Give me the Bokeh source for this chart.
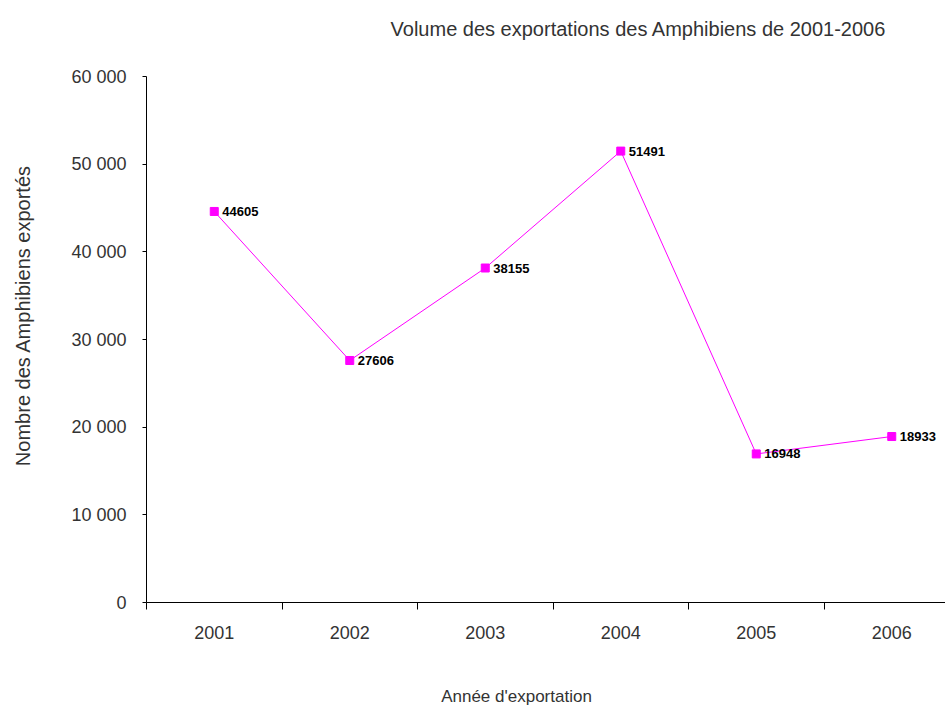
import math
from bokeh.plotting import figure
from bokeh.models import Range1d, FixedTicker, ColumnDataSource, LabelSet, Label
from bokeh.core.properties import value
from bokeh.embed import file_html
from bokeh.resources import INLINE

years = ["2001", "2002", "2003", "2004", "2005", "2006"]
exports = [44605, 27606, 38155, 51491, 16948, 18933]
y_ticks = [0, 10000, 20000, 30000, 40000, 50000, 60000]
y_tick_labels = ["0", "10 000", "20 000", "30 000", "40 000", "50 000", "60 000"]
title_text = "Volume des exportations des Amphibiens de 2001-2006"
x_title = "Année d'exportation"
y_title = "Nombre des Amphibiens exportés"

xpos = [i + 1 for i in range(len(years))]
src = ColumnDataSource(dict(x=xpos, y=exports, lab=[str(v) for v in exports]))

FONT = "Liberation Sans"
GREY = "#333333"
W, H = 945, 706
AX_X, AX_TOP, AX_Y = 146, 76, 602   # axis corner / top in canvas pixels
STEP = 135.5                         # px per category
YMAX = 60000
PPU = (AX_Y - AX_TOP) / YMAX         # px per unit


def dx(px):  # canvas px -> data x
    return 0.5 + (px - AX_X) / STEP


def dy(py):  # canvas px -> data y
    return (AX_Y - py) / PPU


p = figure(width=W, height=H, output_backend="svg", toolbar_location=None,
           x_range=Range1d(dx(0), dx(W)), y_range=Range1d(dy(H), dy(0)),
           min_border_left=0, min_border_right=0, min_border_top=0, min_border_bottom=0)
p.outline_line_color = None
p.xgrid.grid_line_color = None
p.ygrid.grid_line_color = None
p.background_fill_color = "white"
p.border_fill_color = "white"

p.line(src.data["x"], src.data["y"], line_color="#FF00FF", line_width=1)
p.scatter("x", "y", source=src, marker="square", size=8, fill_color="#FF00FF", line_color="#FF00FF")
p.add_layout(LabelSet(x="x", y="y", text="lab", source=src, x_offset=8, y_offset=0,
                      text_baseline="middle", text_font=value(FONT), text_font_size="13px",
                      text_font_style="bold", text_color="black"))

xa = p.xaxis[0]
xa.fixed_location = 0
xa.bounds = (0.5, dx(W))
xa.ticker = FixedTicker(ticks=xpos, minor_ticks=[x - 0.5 for x in xpos])
xa.major_label_overrides = {x: y for x, y in zip(xpos, years)}
xa.major_tick_out = 0
xa.major_tick_in = 0
xa.minor_tick_out = 7
xa.minor_tick_in = 0
xa.major_label_standoff = 16
xa.major_label_text_font = FONT
xa.major_label_text_font_size = "18px"
xa.major_label_text_color = GREY
xa.axis_line_color = "black"

ya = p.yaxis[0]
ya.fixed_location = 0.5
ya.bounds = (0, YMAX)
ya.ticker = FixedTicker(ticks=y_ticks, minor_ticks=[])
ya.major_label_overrides = {t: l for t, l in zip(y_ticks, y_tick_labels)}
ya.major_tick_out = 4
ya.major_tick_in = 0
ya.major_label_standoff = 16
ya.major_label_text_font = FONT
ya.major_label_text_font_size = "18px"
ya.major_label_text_color = GREY
ya.axis_line_color = "black"

p.add_layout(Label(x=dx(638), y=dy(28), text=title_text, text_align="center",
                   text_baseline="middle", text_font=FONT, text_font_size="20px",
                   text_color=GREY))
p.add_layout(Label(x=dx(516), y=dy(696), text=x_title, text_align="center",
                   text_baseline="middle", text_font=FONT, text_font_size="17px",
                   text_color=GREY))
p.add_layout(Label(x=dx(22), y=dy(315), text=y_title, text_align="center",
                   text_baseline="middle", angle=math.pi / 2, text_font=FONT,
                   text_font_size="20px", text_color=GREY))

open("out.html", "w").write(file_html(p, INLINE))
